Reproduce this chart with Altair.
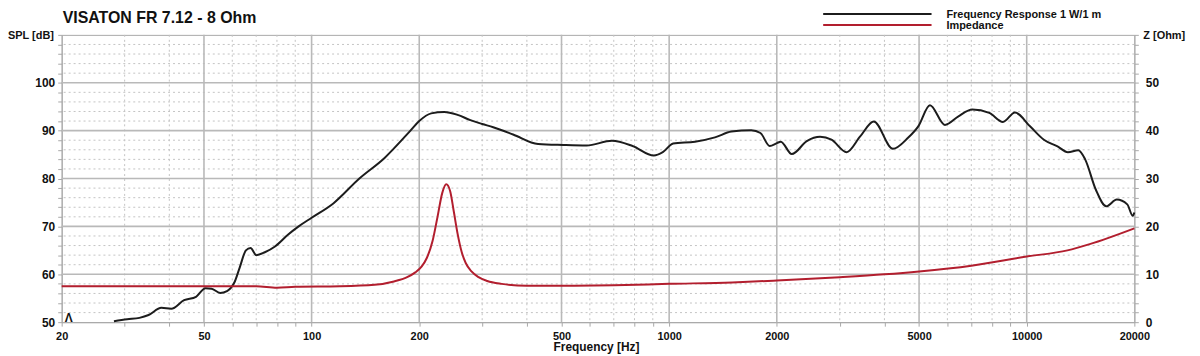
import altair as alt
import pandas as pd

TITLE = "VISATON FR 7.12 - 8 Ohm"
X_TITLE = "Frequency [Hz]"
Y_TITLE = "SPL [dB]"
Y2_TITLE = "Z [Ohm]"
LEG_SPL = "Frequency Response 1 W/1 m"
LEG_IMP = "Impedance"

spl_freq = [28, 30.5, 33, 35, 38, 40.5, 44, 47.5, 50.5, 52.5, 55.5, 58, 61, 63, 65.5, 67.5,
            70, 74, 79, 86, 92, 100, 115, 136, 160, 189, 200, 216, 235, 256, 278, 300, 322,
            366, 430, 506, 588, 692, 790, 906, 960, 1026, 1181, 1343, 1493, 1697, 1800, 1911,
            2002, 2052, 2203, 2426, 2643, 2844, 3134, 3422, 3735, 4222, 4657, 4974, 5363,
            5905, 6444, 7042, 7857, 8580, 9273, 10215, 11170, 12196, 13040, 13940, 14570,
            15600, 16690, 17860, 19110, 19800, 20000]
spl_db = [50.2, 50.6, 50.9, 51.5, 53.0, 52.8, 54.6, 55.3, 57.1, 57.0, 56.1, 56.5, 58.5, 61.5,
          65.0, 65.5, 64.0, 64.6, 65.8, 68.3, 70.0, 71.8, 74.8, 80.0, 84.3, 90.0, 92.0, 93.6,
          93.9, 93.3, 92.2, 91.4, 90.7, 89.2, 87.2, 87.0, 86.9, 87.9, 86.8, 84.8, 85.5, 87.3,
          87.7, 88.6, 89.8, 90.1, 89.5, 86.8, 87.4, 87.7, 85.1, 87.8, 88.7, 88.1, 85.5, 88.8,
          91.9, 86.2, 88.5, 90.9, 95.3, 91.2, 93.0, 94.4, 93.7, 91.8, 93.8, 90.9, 88.1, 86.7,
          85.5, 85.9, 84.0, 77.7, 74.2, 75.6, 74.6, 72.2, 72.9]

imp_freq = [20, 50, 70, 80, 90, 120, 150, 170, 185, 195, 203, 210, 218, 225, 232, 238, 244,
            250, 256, 263, 270, 280, 293, 310, 340, 400, 500, 700, 1000, 1500, 2000, 3000,
            4000, 5000, 7000, 10000, 13000, 15000, 20000]
imp_ohm = [7.5, 7.5, 7.5, 7.2, 7.4, 7.5, 7.8, 8.5, 9.4, 10.4, 11.6, 13.4, 17.0, 22.0, 27.0,
           28.8, 27.4, 23.0, 18.5, 14.6, 12.3, 10.6, 9.4, 8.6, 8.0, 7.6, 7.6, 7.7, 8.0, 8.3,
           8.7, 9.4, 10.0, 10.6, 11.8, 13.7, 15.0, 16.3, 19.6]

freq_major = [50, 100, 200, 500, 1000, 2000, 5000, 10000]
freq_labels = [20, 50, 100, 200, 500, 1000, 2000, 5000, 10000, 20000]
freq_minor = [30, 40, 60, 70, 80, 90, 300, 400, 600, 700, 800, 900,
              3000, 4000, 6000, 7000, 8000, 9000]
spl_major = [60, 70, 80, 90, 100]
spl_minor = [52, 54, 56, 58, 62, 64, 66, 68, 72, 74, 76, 78, 82, 84, 86, 88,
             92, 94, 96, 98, 102, 104, 106, 108]
spl_ticks = [50, 52, 54, 56, 58, 60, 62, 64, 66, 68, 70, 72, 74, 76, 78, 80, 82, 84, 86, 88,
             90, 92, 94, 96, 98, 100, 102, 104, 106, 108, 110]
z_ticks = [0, 2, 4, 6, 8, 10, 12, 14, 16, 18, 20, 22, 24, 26, 28, 30, 32, 34, 36, 38,
           40, 42, 44, 46, 48, 50, 52, 54, 56, 58, 60]

W, H = 1079, 289
FONT = "Liberation Sans"
GRID = "#b9b9b9"
MINOR = "#c4c4c4"
AXC = "#a8a8a8"

spl_df = pd.DataFrame({"f": spl_freq, "v": spl_db})
imp_df = pd.DataFrame({"f": imp_freq, "z": imp_ohm})
one = pd.DataFrame({"a": [0]})

xs = alt.Scale(type="log", domain=[20, 20000], nice=False, zero=False)
ys = alt.Scale(domain=[50, 110], nice=False, zero=False)
zs = alt.Scale(domain=[0, 60], nice=False, zero=False)

lab_list = ",".join(str(v) for v in freq_labels)

x_axis = alt.Axis(values=freq_labels + freq_minor, format="d",
                  labelExpr=f"indexof([{lab_list}], datum.value) >= 0 ? datum.label : ''",
                  grid=False, tickSize=4, tickColor=AXC, labelPadding=4,
                  labelFontSize=11, labelFont=FONT, labelFontWeight="bold",
                  labelColor="#111", domainColor=AXC, labelFlush=False,
                  labelOverlap=False, title=None)
y_axis = alt.Axis(values=spl_ticks,
                  labelExpr="datum.value % 10 === 0 && datum.value < 110 ? datum.label : ''",
                  grid=False, tickSize=4, tickColor=AXC, labelPadding=3,
                  labelFontSize=12, labelFont=FONT, labelFontWeight="bold",
                  labelColor="#111", domainColor=AXC, labelOverlap=False,
                  labelFlush=False, title=None)
z_axis = alt.Axis(orient="right", values=z_ticks,
                  labelExpr="datum.value % 10 === 0 && datum.value < 60 ? datum.label : ''",
                  grid=False, tickSize=4, tickColor=AXC, labelPadding=7,
                  labelFontSize=12, labelFont=FONT, labelFontWeight="bold",
                  labelColor="#111", domainColor=AXC, labelOverlap=False,
                  labelFlush=False, title=None)

vminor = alt.Chart(pd.DataFrame({"f": freq_minor})).mark_rule(
    color=MINOR, strokeWidth=1, strokeDash=[2, 3]).encode(
    x=alt.X("f:Q", scale=xs, axis=x_axis))
hminor = alt.Chart(pd.DataFrame({"v": spl_minor})).mark_rule(
    color=MINOR, strokeWidth=1, strokeDash=[2, 3]).encode(
    y=alt.Y("v:Q", scale=ys, axis=y_axis))
vmajor = alt.Chart(pd.DataFrame({"f": freq_major})).mark_rule(
    color=GRID, strokeWidth=1.6).encode(
    x=alt.X("f:Q", scale=xs, axis=x_axis))
hmajor = alt.Chart(pd.DataFrame({"v": spl_major})).mark_rule(
    color=GRID, strokeWidth=1.6).encode(
    y=alt.Y("v:Q", scale=ys, axis=y_axis))

spl_line = alt.Chart(spl_df).mark_line(color="#1c1c1c", strokeWidth=2, interpolate="monotone").encode(
    x=alt.X("f:Q", scale=xs, axis=x_axis),
    y=alt.Y("v:Q", scale=ys, axis=y_axis),
)

imp_line = alt.Chart(imp_df).mark_line(color="#b21e2e", strokeWidth=2, interpolate="monotone").encode(
    x=alt.X("f:Q", scale=xs, axis=x_axis),
    y=alt.Y("z:Q", scale=zs, axis=z_axis),
)


def txt(s, x, y, size, align="left", color="#111"):
    return alt.Chart(one).mark_text(text=s, font=FONT, fontWeight="bold", fontSize=size,
                                    align=align, baseline="alphabetic", color=color).encode(
        x=alt.value(x), y=alt.value(y))


def leg_rule(x1, x2, y, color):
    return alt.Chart(one).mark_rule(color=color, strokeWidth=2).encode(
        x=alt.value(x1), x2=alt.value(x2), y=alt.value(y))


texts = [
    txt(TITLE, 1, -12, 16),
    txt(Y_TITLE, -54, 4, 11),
    txt(Y2_TITLE, 1088, 4, 11),
    txt(LEG_SPL, 890, -17, 11),
    txt(LEG_IMP, 890, -6, 11),
    txt(X_TITLE, 538, 318, 12, align="center"),
    txt("Λ", 7, 289, 12, align="center"),
    leg_rule(766, 875, -21, "#1c1c1c"),
    leg_rule(766, 875, -10, "#b21e2e"),
]

inner = alt.layer(vminor, hminor, vmajor, hmajor, spl_line, *texts)
chart = alt.layer(inner, imp_line).resolve_scale(y="independent").properties(
    width=W, height=H,
    autosize=alt.AutoSizeParams(type="none"),
    padding={"left": 54, "top": 26, "right": 58, "bottom": 33},
    background="white",
).configure_view(stroke=AXC, strokeWidth=1)

chart.save("out.html", embed_options={"renderer": "svg", "actions": False})
